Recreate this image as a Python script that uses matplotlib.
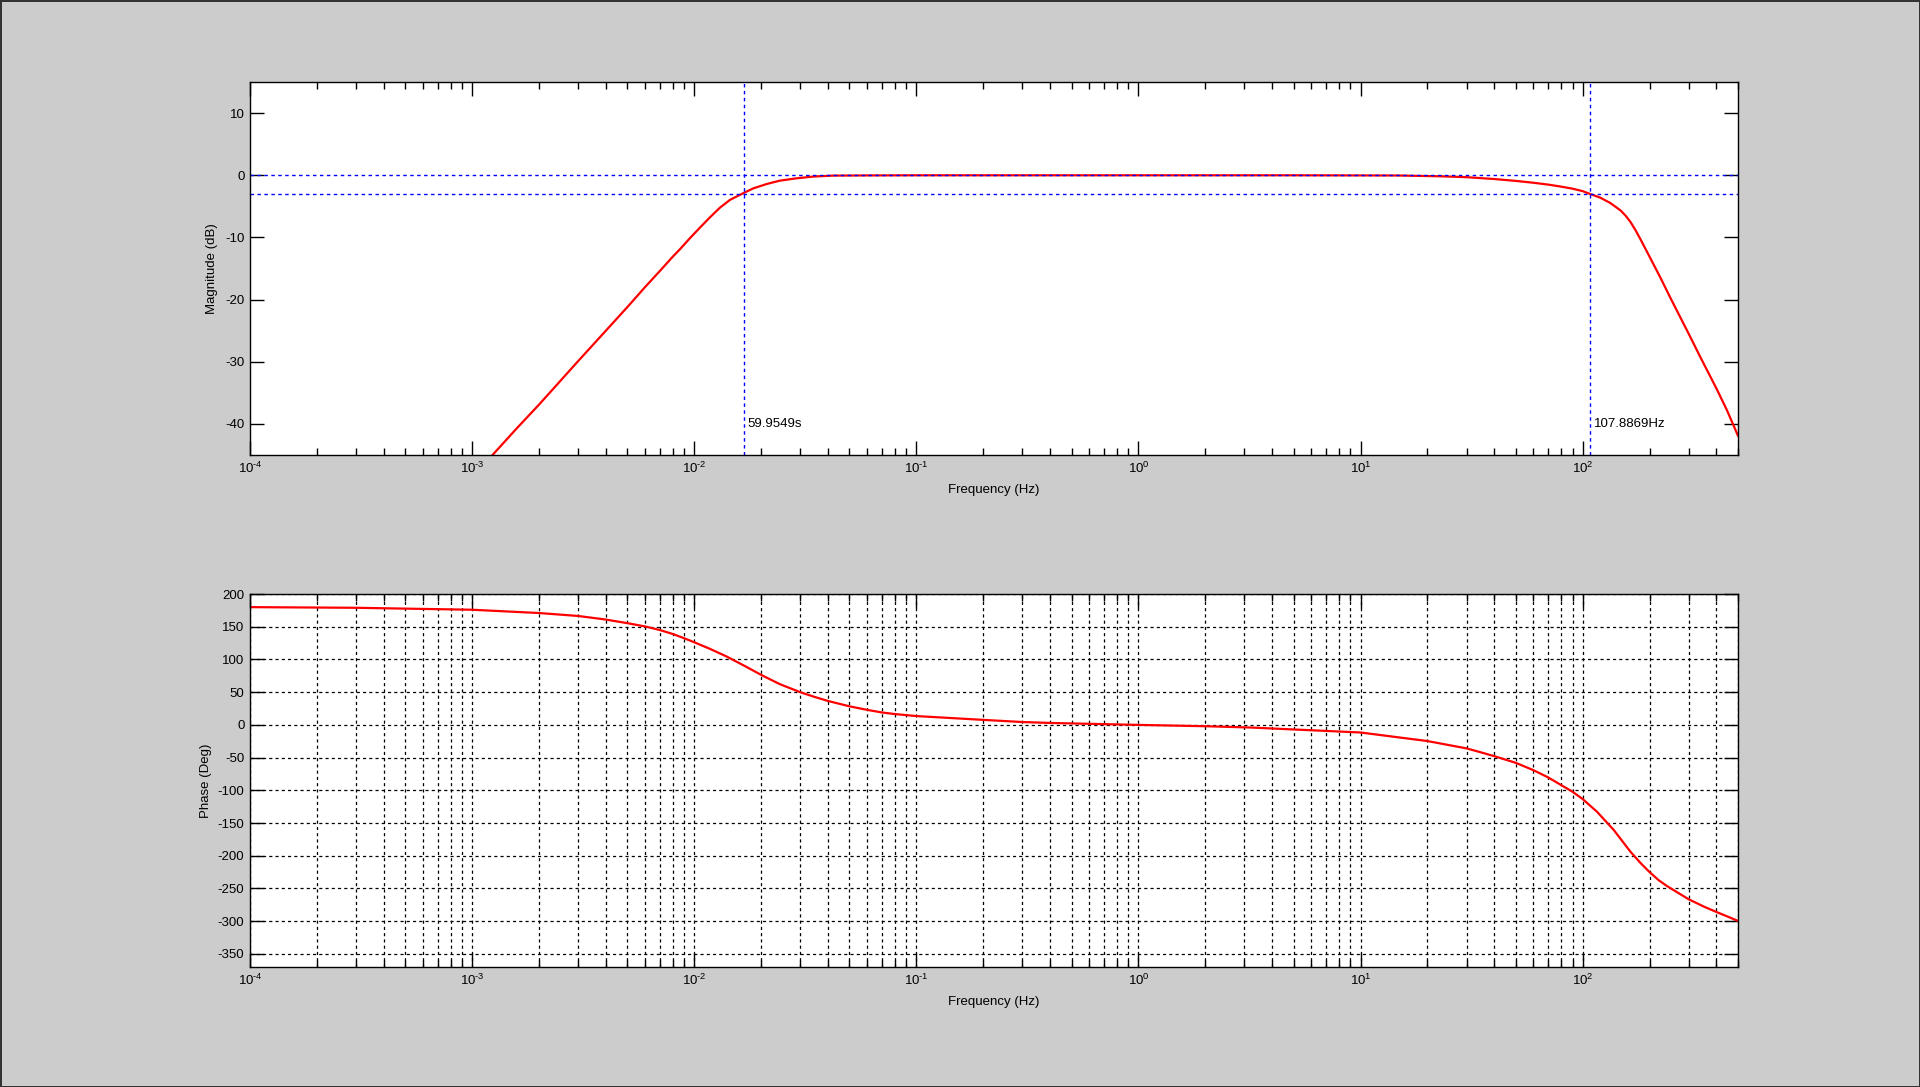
import numpy as np
import matplotlib
matplotlib.use('Agg')
import matplotlib.pyplot as plt
from matplotlib.ticker import LogLocator, NullFormatter, MultipleLocator, FuncFormatter

plt.rcParams['font.family'] = ['Liberation Sans', 'DejaVu Sans']
plt.rcParams['mathtext.fontset'] = 'custom'
plt.rcParams['mathtext.rm'] = 'Liberation Sans'
plt.rcParams['mathtext.it'] = 'Liberation Sans:italic'
plt.rcParams['axes.unicode_minus'] = False
plt.rcParams['font.size'] = 9.5

# magnitude (Hz, dB)
mag_freq = [1.2e-3, 1.58e-3, 2e-3, 3e-3, 4e-3, 5e-3, 6e-3, 7e-3, 8e-3, 8.62e-3,
            9.57e-3, 1.062e-2, 1.178e-2, 1.306e-2, 1.449e-2, 1.668e-2, 1.845e-2,
            2.12e-2, 2.43e-2, 2.89e-2, 3.44e-2, 4.23e-2, 6e-2, 0.1, 1, 5,
            14.6, 23, 30, 40, 50, 60, 70, 79.3, 90, 100, 107.9, 120, 133, 148,
            156, 164, 173, 182, 200, 224, 248, 300, 339, 400, 446, 500]
mag_db = [-45.5, -40.8, -36.9, -29.9, -25.0, -21.2, -18.0, -15.4, -13.1, -11.9,
          -10.1, -8.4, -6.75, -5.2, -3.95, -2.85, -2.1,
          -1.4, -0.86, -0.48, -0.2, -0.05, -0.02, 0, 0, 0,
          -0.03, -0.16, -0.3, -0.6, -0.9, -1.2, -1.5, -1.8, -2.15, -2.55, -3.0,
          -3.6, -4.45, -5.65, -6.5, -7.5, -8.85, -10.3, -13.1, -16.5, -19.7,
          -25.5, -29.3, -34.3, -37.8, -41.9]

# phase (Hz, deg)
ph_freq = [1e-4, 3e-4, 1e-3, 2e-3, 3e-3, 4e-3, 5e-3, 6e-3, 7e-3, 8e-3, 9e-3,
           1e-2, 1.172e-2, 1.39e-2, 1.668e-2, 2e-2, 2.42e-2, 3e-2, 3.48e-2, 4e-2,
           5e-2, 6e-2, 7e-2, 8e-2, 0.1, 0.2, 0.3, 0.4, 1, 2, 3.2, 10, 20, 30,
           34.6, 40, 50, 60, 70, 80, 90, 100, 116, 138, 164, 182, 200, 220, 240,
           300, 350, 400, 504]
ph_deg = [180, 179, 176, 171, 166.5, 161, 155.5, 150.5, 145, 139, 132.5,
          126.3, 116.5, 105, 91, 76.5, 62.5, 50, 42.8, 36.6,
          28.4, 23, 19, 16.6, 13.5, 7.7, 4.4, 3, 0, -2, -4, -11.6, -24.7, -35.9,
          -41.7, -47.8, -58, -69.2, -80.4, -92, -102.2, -113.4, -132.8, -160.7,
          -193.8, -211, -225, -237.5, -246.5, -266.5, -277.5, -285.9, -300]

lo_period = 59.9549      # s
hi_freq = 107.8869       # Hz


def decade_label(v, pos):
    e = int(round(np.log10(v)))
    if e < 0:
        return r'$10^{\text{-%d}}$' % (-e)
    return r'$10^{%d}$' % e


fig = plt.figure(figsize=(19.2, 10.87), dpi=100)
fig.patch.set_facecolor('#cccccc')
fig.patch.set_edgecolor('#333333')
fig.patch.set_linewidth(2)

ax1 = fig.add_axes([0.1302, 0.5814, 0.775, 0.3431])
ax2 = fig.add_axes([0.1302, 0.1104, 0.775, 0.3431])

dots = (0, (2.5, 2.5))

for ax in (ax1, ax2):
    ax.set_xscale('log')
    ax.set_xlim(1e-4, 500)
    ax.xaxis.set_major_locator(LogLocator(base=10, numticks=20))
    ax.xaxis.set_major_formatter(FuncFormatter(decade_label))
    ax.xaxis.set_minor_locator(LogLocator(base=10, subs=np.arange(2, 10), numticks=20))
    ax.xaxis.set_minor_formatter(NullFormatter())
    ax.tick_params(which='both', direction='in', top=True, right=True, width=1)
    ax.tick_params(which='major', length=10, pad=4)
    ax.tick_params(which='minor', length=5)
    for s in ax.spines.values():
        s.set_linewidth(1)
    ax.set_xlabel('Frequency (Hz)', labelpad=6)

# magnitude
ax1.plot(mag_freq, mag_db, color='red', lw=1.6, solid_joinstyle='round')
ax1.set_ylim(-45, 15)
ax1.yaxis.set_major_locator(MultipleLocator(10))
ax1.set_ylabel('Magnitude (dB)', labelpad=5)
ax1.axhline(0, color='blue', lw=1, ls=dots)
ax1.axhline(-3, color='blue', lw=1, ls=dots)
ax1.axvline(1 / lo_period, color='blue', lw=1, ls=dots)
ax1.axvline(hi_freq, color='blue', lw=1, ls=dots)
ax1.text(1 / lo_period * 1.045, -40, f'{lo_period:.4f}s', va='center', ha='left')
ax1.text(hi_freq * 1.045, -40, f'{hi_freq:.4f}Hz', va='center', ha='left')

# phase
ax2.plot(ph_freq, ph_deg, color='red', lw=1.6, solid_joinstyle='round')
ax2.set_ylim(-370, 200)
ax2.yaxis.set_major_locator(MultipleLocator(50))
ax2.set_ylabel('Phase (Deg)', labelpad=4)
ax2.grid(True, which='both', axis='x', color='black', lw=0.9, ls=dots)
ax2.grid(True, which='major', axis='y', color='black', lw=0.9, ls=dots)
ax2.set_axisbelow(True)

fig.savefig('out.png', dpi=100, facecolor=fig.get_facecolor(), edgecolor=fig.get_edgecolor())
